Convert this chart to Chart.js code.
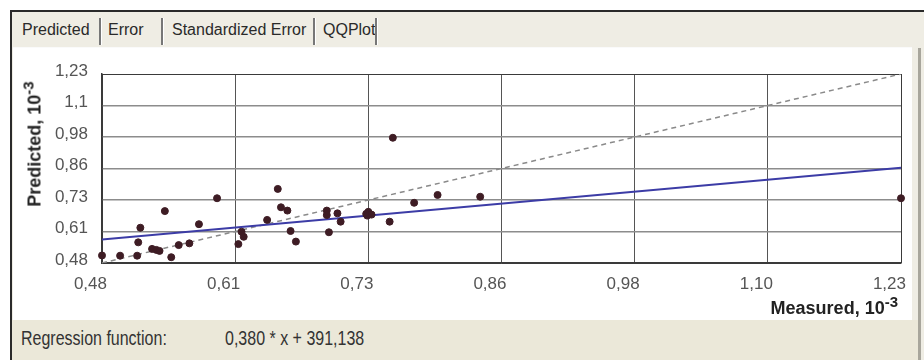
<!DOCTYPE html>
<html>
<head>
<meta charset="utf-8">
<script src="https://cdn.jsdelivr.net/npm/chart.js@4"></script>
<style>
    body { margin: 0; width: 924px; height: 360px; background: #fff; position: relative; overflow: hidden;
           font-family: 'Liberation Sans', Arial, sans-serif; }
    .window { position: absolute; left: 10px; top: 10px; width: 914px; height: 350px;
              border-left: 2px solid #2a2a2a; border-top: 2px solid #2a2a2a; background: #efede4; box-sizing: border-box; }
    .tab { position: absolute; top: 20px; font-size: 16px; color: #2a2a2a; line-height: 20px; }
    .sep { position: absolute; top: 18px; width: 2px; height: 27px; background: #777; border-right: 1px solid #fff; }
    .panel { position: absolute; left: 13px; top: 47px; width: 899px; height: 273px; background: #fff;
             border-top: 1px solid #fafafa; box-sizing: border-box; }
    .footer { position: absolute; left: 12px; top: 320px; width: 906px; height: 40px; background: #ebe8d9; }
    .rightbar { position: absolute; left: 918px; top: 48px; width: 3px; height: 312px; background: #a8a69c; }
    .foottext { position: absolute; top: 327px; font-size: 16px; color: #333; transform: scaleY(1.25); transform-origin: top left; }
    canvas#chart { position: absolute; left: 14px; top: 48px; }
    .ytitle { position: absolute; left: 35px; top: 144px; font-weight: bold; font-size: 18px; color: #222;
              transform: translate(-50%, -50%) rotate(-90deg); white-space: nowrap; }
    .xtitle { position: absolute; right: 26px; top: 298px; font-weight: bold; font-size: 18px; color: #222; white-space: nowrap; }
    sup { font-size: 15px; vertical-align: 7px; line-height: 0; }
</style>
</head>
<body>
<div class="window"></div>
<div class="tab" style="left:22px">Predicted</div>
<div class="sep" style="left:99px"></div>
<div class="tab" style="left:108px">Error</div>
<div class="sep" style="left:161px"></div>
<div class="tab" style="left:172px">Standardized Error</div>
<div class="sep" style="left:313px"></div>
<div class="tab" style="left:323px">QQPlot</div>
<div class="sep" style="left:375px"></div>
<div class="panel"></div>
<div class="rightbar"></div>
<div class="footer"></div>
<div class="foottext" style="left:21px">Regression function:</div>
<div class="foottext" style="left:225px">0,380 * x + 391,138</div>
<canvas id="chart" width="898" height="272"></canvas>
<div class="ytitle">Predicted, 10<sup>-3</sup></div>
<div class="xtitle">Measured, 10<sup>-3</sup></div>

<script>
// Axis ticks (values and printed labels, comma decimals)
const tickValues = [0.48, 0.605, 0.73, 0.855, 0.98, 1.105, 1.23];
const xTickLabels = ['0,48', '0,61', '0,73', '0,86', '0,98', '1,10', '1,23'];
const yTickLabels = ['0,48', '0,61', '0,73', '0,86', '0,98', '1,1', '1,23'];

// Measured vs predicted samples (x 10^-3)
const measured = [0.480, 0.497, 0.513, 0.516, 0.514, 0.539, 0.527, 0.531, 0.534, 0.545,
                  0.552, 0.562, 0.571, 0.588, 0.608, 0.611, 0.613, 0.635, 0.645, 0.648,
                  0.654, 0.657, 0.662, 0.691, 0.691, 0.693, 0.701, 0.704, 0.728, 0.730,
                  0.729, 0.733, 0.753, 0.750, 0.773, 0.795, 0.835, 1.230];
const predicted = [0.510, 0.509, 0.509, 0.620, 0.562, 0.686, 0.536, 0.532, 0.528, 0.503,
                   0.551, 0.558, 0.634, 0.737, 0.555, 0.604, 0.584, 0.651, 0.774, 0.701,
                   0.688, 0.607, 0.565, 0.688, 0.670, 0.602, 0.677, 0.644, 0.675, 0.683,
                   0.668, 0.672, 0.977, 0.644, 0.719, 0.750, 0.743, 0.737];

// Line end points
const identityX = [0.48, 1.23];
const identityY = [0.48, 1.23];
const regressionX = [0.48, 1.23];
const regressionY = [0.573, 0.858];

function toPoints(xs, ys) {
    return xs.map((x, i) => ({ x: x, y: ys[i] }));
}

const edgeColor = (ctx) => (ctx.index === 0 || ctx.index === tickValues.length - 1) ? '#3a3a3a' : null;

const ctx = document.getElementById('chart').getContext('2d');
new Chart(ctx, {
    type: 'scatter',
    data: {
        datasets: [
            {
                label: 'Samples',
                data: toPoints(measured, predicted),
                backgroundColor: '#3e1c24',
                borderColor: '#3e1c24',
                pointRadius: 3.5,
                clip: false,
                order: 0
            },
            {
                label: 'Regression',
                data: toPoints(regressionX, regressionY),
                showLine: true,
                borderColor: '#3c3ca6',
                borderWidth: 2,
                pointRadius: 0,
                order: 1
            },
            {
                label: '1:1',
                data: toPoints(identityX, identityY),
                showLine: true,
                borderColor: '#8a8a8a',
                borderWidth: 1.5,
                borderDash: [5, 4],
                pointRadius: 0,
                order: 2
            }
        ]
    },
    options: {
        responsive: false,
        animation: false,
        layout: { padding: { top: 26, right: 9, left: 0, bottom: 0 } },
        plugins: {
            legend: { display: false },
            tooltip: { enabled: false }
        },
        scales: {
            x: {
                type: 'linear',
                min: 0.48,
                max: 1.23,
                afterBuildTicks: (scale) => { scale.ticks = tickValues.map(v => ({ value: v })); },
                afterFit: (scale) => { scale.height = 57; },
                grid: {
                    color: (c) => edgeColor(c) || '#555',
                    lineWidth: 1,
                    drawTicks: false
                },
                border: { color: '#3a3a3a', width: 1.5 },
                ticks: {
                    callback: (v, i) => xTickLabels[i],
                    align: 'end',
                    labelOffset: 5,
                    padding: 11,
                    maxRotation: 0,
                    autoSkip: false,
                    color: '#555',
                    font: { family: "'Liberation Sans Narrow', 'Liberation Sans', Arial", size: 17 }
                }
            },
            y: {
                type: 'linear',
                min: 0.48,
                max: 1.23,
                afterBuildTicks: (scale) => { scale.ticks = tickValues.map(v => ({ value: v })); },
                afterFit: (scale) => { scale.width = 88; },
                grid: {
                    color: (c) => edgeColor(c) || '#8c8c8c',
                    lineWidth: (c) => edgeColor(c) ? 1 : 1.5,
                    drawTicks: false
                },
                border: { color: '#3a3a3a', width: 1.5 },
                ticks: {
                    callback: (v, i) => yTickLabels[i],
                    padding: 14,
                    labelOffset: -3,
                    autoSkip: false,
                    color: '#555',
                    font: { family: "'Liberation Sans Narrow', 'Liberation Sans', Arial", size: 17 }
                }
            }
        }
    }
});
</script>
</body>
</html>
